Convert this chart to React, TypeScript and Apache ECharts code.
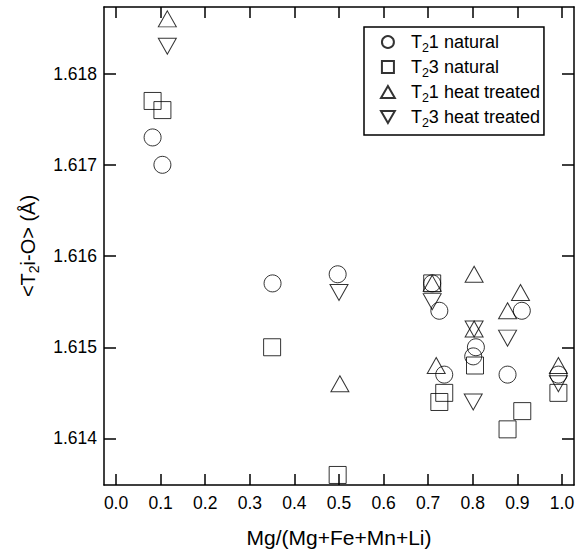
import React, { useEffect, useRef } from 'react';
import * as echarts from 'echarts';

// ---- data ----
const xTicks = [0, 0.1, 0.2, 0.3, 0.4, 0.5, 0.6, 0.7, 0.8, 0.9, 1.0];
const yTicks = [1.614, 1.615, 1.616, 1.617, 1.618];
const referenceLine = 1.615;

const t21NaturalX = [0.082, 0.104, 0.351, 0.497, 0.709, 0.725, 0.736, 0.807, 0.801, 0.878, 0.91, 0.992];
const t21NaturalY = [1.6173, 1.617, 1.6157, 1.6158, 1.6157, 1.6154, 1.6147, 1.615, 1.6149, 1.6147, 1.6154, 1.6147];

const t23NaturalX = [0.082, 0.104, 0.35, 0.497, 0.709, 0.736, 0.725, 0.805, 0.878, 0.911, 0.992];
const t23NaturalY = [1.6177, 1.6176, 1.615, 1.6136, 1.6157, 1.6145, 1.6144, 1.6148, 1.6141, 1.6143, 1.6145];

const t21HeatX = [0.115, 0.502, 0.709, 0.718, 0.803, 0.803, 0.878, 0.907, 0.992];
const t21HeatY = [1.6186, 1.6146, 1.6157, 1.6148, 1.6158, 1.6152, 1.6154, 1.6156, 1.6148];

const t23HeatX = [0.115, 0.5, 0.709, 0.803, 0.801, 0.878, 0.992];
const t23HeatY = [1.6183, 1.6156, 1.6155, 1.6152, 1.6144, 1.6151, 1.6146];

const seriesNames = ['T21 natural', 'T23 natural', 'T21 heat treated', 'T23 heat treated'];
const legendLabels: Record<string, string> = {
  'T21 natural': '{n|T}{s|2}{n|1 natural}',
  'T23 natural': '{n|T}{s|2}{n|3 natural}',
  'T21 heat treated': '{n|T}{s|2}{n|1 heat treated}',
  'T23 heat treated': '{n|T}{s|2}{n|3 heat treated}',
};

const FONT = "'Liberation Sans', Arial, Helvetica, sans-serif";
const zip = (xs: number[], ys: number[]) => xs.map((x, i) => [x, ys[i]]);

const UP_TRI = 'path://M5,0 L10,8.66 L0,8.66 Z';
const DOWN_TRI = 'path://M0,0 L10,0 L5,8.66 Z';
const SQUARE = 'path://M0,0 L10,0 L10,10 L0,10 Z';

export default function App() {
  const ref = useRef<HTMLDivElement>(null);
  useEffect(() => {
    if (!ref.current) return;
    const chart = echarts.init(ref.current, undefined, { renderer: 'svg' });
    const markerStyle = { color: 'transparent', borderColor: '#000', borderWidth: 1 };
    const axisLineStyle = { color: '#000', width: 1.5 };
    const xRange = { min: -0.027, max: 1.027 };
    const yRange = { min: 1.61349, max: 1.61873 };
    const rich = {
      n: { fontSize: 18, fontFamily: FONT, color: '#000', lineHeight: 20 },
      s: { fontSize: 12.5, fontFamily: FONT, color: '#000', lineHeight: 12, padding: [11, 0, 0, 0] },
    };
    const nameRich = {
      n: { fontSize: 20, fontFamily: FONT, color: '#000', lineHeight: 24 },
      s: { fontSize: 14, fontFamily: FONT, color: '#000', lineHeight: 14, padding: [12, 0, 0, 0] },
    };
    const mk = (name: string, xs: number[], ys: number[], symbol: string, size: number | number[]) => ({
      name,
      type: 'scatter',
      data: zip(xs, ys),
      symbol,
      symbolSize: size,
      itemStyle: markerStyle,
      xAxisIndex: 0,
      yAxisIndex: 0,
    });
    const series: any[] = [
      mk(seriesNames[0], t21NaturalX, t21NaturalY, 'circle', 17),
      mk(seriesNames[1], t23NaturalX, t23NaturalY, SQUARE, 17),
      mk(seriesNames[2], t21HeatX, t21HeatY, UP_TRI, [18, 16]),
      mk(seriesNames[3], t23HeatX, t23HeatY, DOWN_TRI, [18, 16]),
    ];
    series[0].markLine = {
      silent: true,
      symbol: ['none', 'none'],
      label: { show: false },
      lineStyle: { color: '#000', type: 'solid', width: 1.5 },
      data: [{ yAxis: referenceLine }],
    };
    chart.setOption({
      animation: false,
      backgroundColor: '#fff',
      grid: { left: 104, right: 8, top: 7, bottom: 69, containLabel: false },
      legend: {
        left: 364,
        top: 27,
        orient: 'vertical',
        data: seriesNames,
        itemWidth: 36,
        itemHeight: 12,
        itemGap: 1,
        symbolKeepAspect: true,
        padding: [3, 4, 6, 16],
        borderColor: '#000',
        borderWidth: 1.5,
        backgroundColor: '#fff',
        formatter: (name: string) => legendLabels[name],
        textStyle: { rich, fontSize: 18, fontFamily: FONT, color: '#000' },
      },
      xAxis: [
        {
          type: 'value',
          ...xRange,
          position: 'bottom',
          name: 'Mg/(Mg+Fe+Mn+Li)',
          nameLocation: 'middle',
          nameGap: 42,
          nameTextStyle: { fontSize: 21, fontFamily: FONT, color: '#000' },
          axisLine: { show: true, onZero: false, lineStyle: axisLineStyle },
          axisTick: { show: true, inside: true, length: 11, customValues: xTicks, lineStyle: axisLineStyle },
          axisLabel: {
            customValues: xTicks,
            margin: 9,
            fontSize: 17.5,
            fontFamily: FONT,
            color: '#000',
            formatter: (v: number) => v.toFixed(1),
          },
          splitLine: { show: false },
        },
        {
          type: 'value',
          ...xRange,
          position: 'top',
          axisLine: { show: true, onZero: false, lineStyle: axisLineStyle },
          axisTick: { show: true, inside: true, length: 11, customValues: xTicks, lineStyle: axisLineStyle },
          axisLabel: { show: false },
          splitLine: { show: false },
        },
      ],
      yAxis: [
        {
          type: 'value',
          ...yRange,
          position: 'left',
          name: '{n|<T}{s|2}{n|i-O> (Å)}',
          nameLocation: 'middle',
          nameGap: 64,
          nameRotate: 90,
          nameTextStyle: { rich: nameRich, fontSize: 20, fontFamily: FONT, color: '#000' },
          axisLine: { show: true, onZero: false, lineStyle: axisLineStyle },
          axisTick: { show: true, inside: true, length: 12, customValues: yTicks, lineStyle: axisLineStyle },
          axisLabel: {
            customValues: yTicks,
            margin: 7,
            fontSize: 17.5,
            fontFamily: FONT,
            color: '#000',
            formatter: (v: number) => v.toFixed(3),
          },
          splitLine: { show: false },
        },
        {
          type: 'value',
          ...yRange,
          position: 'right',
          axisLine: { show: true, onZero: false, lineStyle: axisLineStyle },
          axisTick: { show: true, inside: true, length: 12, customValues: yTicks, lineStyle: axisLineStyle },
          axisLabel: { show: false },
          splitLine: { show: false },
        },
      ],
      series,
    });
    return () => chart.dispose();
  }, []);
  return <div ref={ref} style={{ width: 582, height: 554, position: 'absolute', left: 0, top: 0 }} />;
}
